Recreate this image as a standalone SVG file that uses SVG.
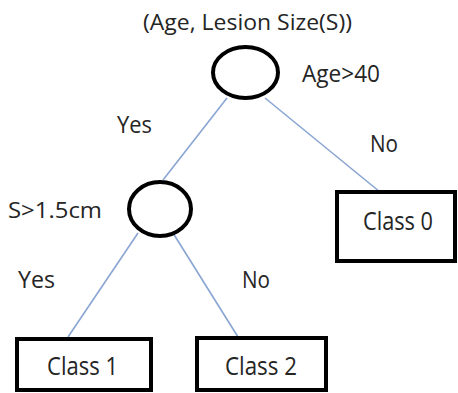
<svg xmlns="http://www.w3.org/2000/svg" width="458" height="393" viewBox="0 0 458 393">
<style>
  .t { font-family: "Open Sans", "Liberation Sans", sans-serif; fill: #252525; }
  .node { fill: #fff; stroke: #000; stroke-width: 4; }
  .edge { stroke: #8aa5d3; stroke-width: 1.6; fill: none; }
</style>
<rect width="458" height="393" fill="#fff"/>
<text class="t" x="143" y="30" font-size="21" textLength="209" lengthAdjust="spacingAndGlyphs">(Age, Lesion Size(S))</text>
<g id="connectors">
  <line class="edge" x1="227" y1="98" x2="163" y2="180"/>
  <line class="edge" x1="265" y1="98" x2="380" y2="192"/>
  <line class="edge" x1="138" y1="233" x2="68" y2="337"/>
  <line class="edge" x1="173" y1="233" x2="238" y2="337"/>
  <text class="t" x="117" y="133" font-size="23" textLength="35" lengthAdjust="spacingAndGlyphs">Yes</text>
  <text class="t" x="370" y="152" font-size="23" textLength="28" lengthAdjust="spacingAndGlyphs">No</text>
  <text class="t" x="18" y="288" font-size="23" textLength="37" lengthAdjust="spacingAndGlyphs">Yes</text>
  <text class="t" x="242" y="288" font-size="23" textLength="28" lengthAdjust="spacingAndGlyphs">No</text>
</g>
<g id="node-age">
  <ellipse class="node" cx="245.5" cy="72.5" rx="32.5" ry="25.5"/>
  <text class="t" x="302" y="82" font-size="23" textLength="78" lengthAdjust="spacingAndGlyphs">Age&gt;40</text>
</g>
<g id="node-size">
  <ellipse class="node" cx="160" cy="209" rx="31" ry="27"/>
  <text class="t" x="8" y="218" font-size="22" textLength="94" lengthAdjust="spacingAndGlyphs">S&gt;1.5cm</text>
</g>
<g id="node-class0">
  <rect class="node" x="337" y="192" width="118" height="69"/>
  <text class="t" x="363" y="230" font-size="25" textLength="70" lengthAdjust="spacingAndGlyphs">Class 0</text>
</g>
<g id="node-class1">
  <rect class="node" x="17" y="339" width="134" height="51"/>
  <text class="t" x="47" y="375" font-size="25" textLength="71" lengthAdjust="spacingAndGlyphs">Class 1</text>
</g>
<g id="node-class2">
  <rect class="node" x="197" y="338" width="129" height="52"/>
  <text class="t" x="225" y="375" font-size="25" textLength="72" lengthAdjust="spacingAndGlyphs">Class 2</text>
</g>
</svg>
